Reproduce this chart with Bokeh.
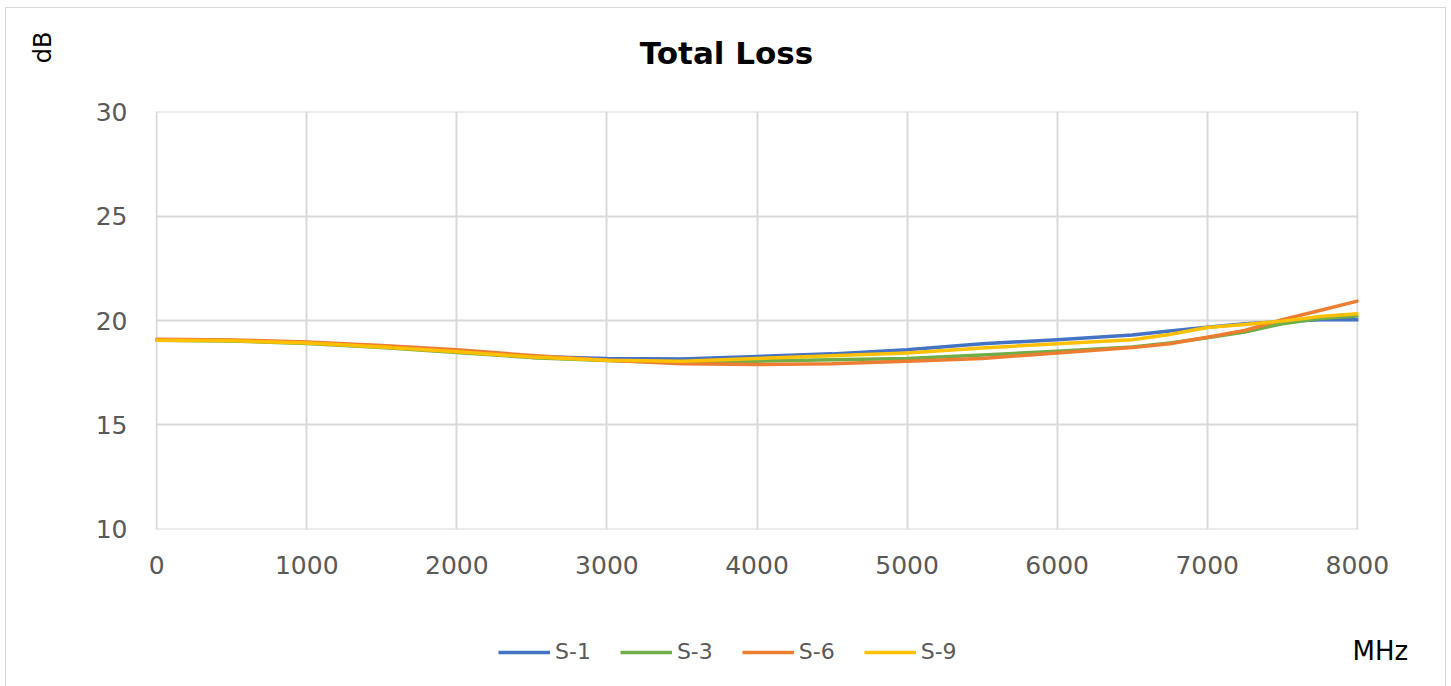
import math
from bokeh.plotting import figure
from bokeh.layouts import column
from bokeh.models import Range1d, Legend, LegendItem, FixedTicker, Label
from bokeh.embed import file_html
from bokeh.resources import INLINE

freq = [0, 500, 1000, 1500, 2000, 2500, 3000, 3500, 4000, 4500, 5000, 5500, 6000, 6500,
        6750, 7000, 7250, 7500, 7750, 8000]
s1 = [19.08, 19.04, 18.93, 18.74, 18.52, 18.28, 18.18, 18.16, 18.28, 18.40, 18.60, 18.88, 19.08, 19.30,
      19.50, 19.68, 19.84, 19.95, 20.03, 20.03]
s3 = [19.05, 19.02, 18.90, 18.70, 18.47, 18.22, 18.08, 17.98, 18.05, 18.12, 18.18, 18.35, 18.52, 18.73,
      18.92, 19.17, 19.45, 19.84, 20.10, 20.21]
s6 = [19.10, 19.07, 18.97, 18.80, 18.60, 18.32, 18.09, 17.93, 17.89, 17.93, 18.05, 18.18, 18.44, 18.70,
      18.89, 19.20, 19.52, 20.04, 20.48, 20.93]
s9 = [19.05, 19.03, 18.92, 18.73, 18.50, 18.25, 18.09, 18.05, 18.18, 18.31, 18.44, 18.68, 18.89, 19.08,
      19.33, 19.66, 19.81, 19.97, 20.19, 20.32]
series_names = ["S-1", "S-3", "S-6", "S-9"]
colors = ["#4472C4", "#70AD47", "#ED7D31", "#FFC000"]
x_ticks = [0, 1000, 2000, 3000, 4000, 5000, 6000, 7000, 8000]
y_ticks = [10, 15, 20, 25, 30]
title_text = "Total Loss"
y_unit = "dB"
x_unit = "MHz"

FONT = "DejaVu Sans"
W = 1439


def no_align(f):
    if "frame_align" in f.properties():
        f.frame_align = False


def strip(height):
    f = figure(width=W, height=height, output_backend="svg", toolbar_location=None,
               x_range=Range1d(0, 1), y_range=Range1d(0, 1),
               x_axis_location=None, y_axis_location=None,
               min_border_left=0, min_border_right=0, min_border_top=0, min_border_bottom=0)
    f.outline_line_color = None
    f.xgrid.visible = False
    f.ygrid.visible = False
    f.border_fill_color = "white"
    f.background_fill_color = "white"
    no_align(f)
    return f


# ---- top strip: title and y unit ----
top = strip(82)
top.add_layout(Label(x=720, y=38, x_units="screen", y_units="screen", text=title_text,
                     text_font=FONT, text_font_size="31px", text_font_style="bold",
                     text_color="black", text_align="center", text_baseline="middle"))
top.add_layout(Label(x=36, y=43, x_units="screen", y_units="screen", text=y_unit,
                     text_font=FONT, text_font_size="24px", text_color="black",
                     angle=math.pi / 2, text_align="center", text_baseline="middle"))

# ---- main chart ----
p = figure(width=W, height=499, output_backend="svg", toolbar_location=None,
           x_range=Range1d(-8, 8008), y_range=Range1d(9.98, 30.02),
           min_border_left=149, min_border_right=87, min_border_top=21, min_border_bottom=60)
no_align(p)
p.outline_line_color = None
p.background_fill_color = "white"
p.border_fill_color = "white"

for ax in (p.xaxis[0], p.yaxis[0]):
    ax.axis_line_color = None
    ax.major_tick_line_color = None
    ax.minor_tick_line_color = None
    ax.major_label_text_font = FONT
    ax.major_label_text_font_size = "25px"
    ax.major_label_text_color = "#595959"
p.xaxis[0].ticker = FixedTicker(ticks=x_ticks)
p.yaxis[0].ticker = FixedTicker(ticks=y_ticks)
p.xaxis[0].major_label_standoff = 20
p.yaxis[0].major_label_standoff = 22

p.xgrid[0].ticker = FixedTicker(ticks=x_ticks)
p.ygrid[0].ticker = FixedTicker(ticks=y_ticks)
for g in (p.xgrid[0], p.ygrid[0]):
    g.grid_line_color = "#d9d9d9"
    g.grid_line_width = 2

series = [s1, s3, s6, s9]
for ys, c in zip(series, colors):
    p.line(freq, ys, line_color=c, line_width=3.5, line_join="round", line_cap="round")

# ---- bottom strip: legend and x unit ----
bot = strip(97)
items = []
for name, ys, c in zip(series_names, series, colors):
    # same series, outside this strip's view; used only as legend keys
    r = bot.line(freq, ys, line_color=c, line_width=3.5)
    items.append(LegendItem(label=name, renderers=[r]))
legend = Legend(items=items, orientation="horizontal", location=(492, 22),
                label_text_font=FONT, label_text_font_size="22px", label_text_color="#595959",
                glyph_width=52, glyph_height=20, label_standoff=5, spacing=29,
                padding=0, margin=0, border_line_color=None, background_fill_alpha=0)
bot.add_layout(legend, "center")
bot.add_layout(Label(x=1346, y=36, x_units="screen", y_units="screen", text=x_unit,
                     text_font=FONT, text_font_size="26px", text_color="black",
                     text_align="left", text_baseline="middle"))

layout = column(top, p, bot, spacing=0,
                styles={"margin-left": "5px", "margin-top": "7px", "border": "1px solid #d9d9d9"})

open("out.html", "w").write(file_html(layout, INLINE))
